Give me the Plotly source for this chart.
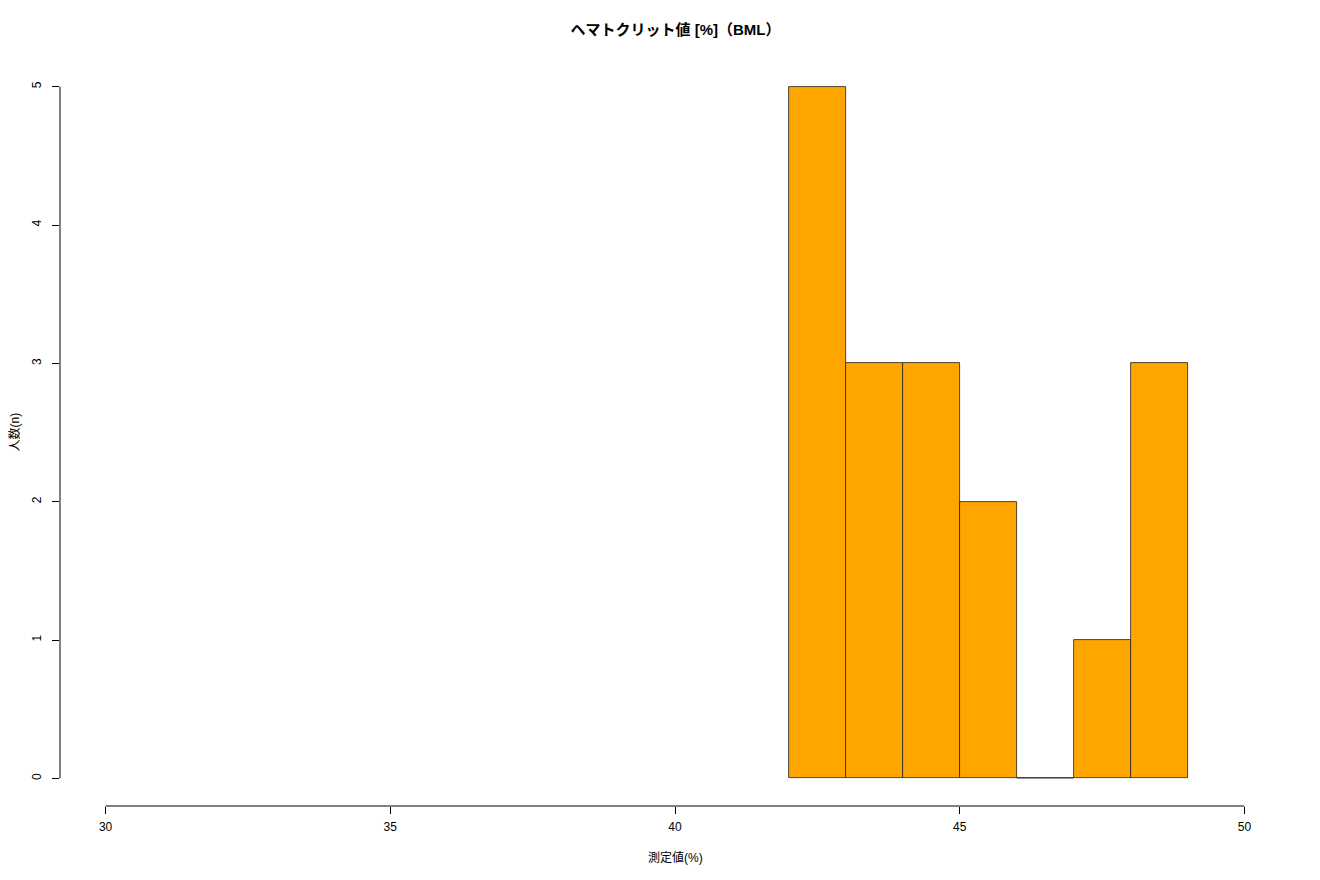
import plotly.graph_objects as go

# Histogram data (bin left edges, bin width 1)
bin_left = [42, 43, 44, 45, 46, 47, 48]
counts = [5, 3, 3, 2, 0, 1, 3]
bin_width = 1

x_ticks = [30, 35, 40, 45, 50]
y_ticks = [0, 1, 2, 3, 4, 5]

title_text = "ヘマトクリット値 [%]（BML）"
x_label = "測定値(%)"
y_label = "人数(n)"

FONT = "Liberation Sans, Arial, Noto Sans CJK JP, sans-serif"

xpad = 0.04 * (max(x_ticks) - min(x_ticks))
ypad = 0.04 * (max(y_ticks) - min(y_ticks))

centers = [b + bin_width / 2 for b in bin_left]

fig = go.Figure()
fig.add_trace(go.Bar(
    x=centers, y=counts, width=[bin_width] * len(bin_left),
    marker=dict(color="#FFA500", line=dict(color="#222222", width=0.8)),
    hoverinfo="x+y", showlegend=False,
))

# zero-height bins drawn as flat outline, like R
for b, c in zip(bin_left, counts):
    if c == 0:
        fig.add_trace(go.Scatter(x=[b, b + bin_width], y=[0, 0], mode="lines",
                                 line=dict(color="#888888", width=1),
                                 showlegend=False, hoverinfo="skip"))

# R-style axis lines spanning only tick range
shapes = [
    dict(type="line", xref="x", yref="paper", x0=min(x_ticks), x1=max(x_ticks),
         y0=0, y1=0, line=dict(color="black", width=1)),
    dict(type="line", xref="paper", yref="y", x0=0, x1=0,
         y0=min(y_ticks), y1=max(y_ticks), line=dict(color="black", width=1)),
]

fig.update_layout(
    width=1320, height=880,
    paper_bgcolor="white", plot_bgcolor="white",
    margin=dict(l=51.5, r=37.5, t=51.4, b=82.4, pad=0),
    font=dict(family=FONT, size=12, color="black"),
    title=dict(text="<b>" + title_text + "</b>", x=0.5057, xanchor="center",
               y=1 - 22 / 880, yanchor="middle",
               font=dict(family=FONT, size=15, color="black")),
    xaxis=dict(range=[min(x_ticks) - xpad, max(x_ticks) + xpad],
               tickvals=x_ticks, ticktext=[str(v) for v in x_ticks],
               ticks="outside", ticklen=7, tickcolor="black", tickwidth=1,
               showline=False, showgrid=False, zeroline=False,
               tickfont=dict(size=12), ticklabelstandoff=3, fixedrange=True),
    yaxis=dict(range=[min(y_ticks) - ypad, max(y_ticks) + ypad],
               tickvals=y_ticks, ticktext=[str(v) for v in y_ticks],
               ticks="outside", ticklen=7, tickcolor="black", tickwidth=1,
               tickangle=-90,
               showline=False, showgrid=False, zeroline=False,
               tickfont=dict(size=12), ticklabelstandoff=6, fixedrange=True),
    shapes=shapes,
    bargap=0,
    annotations=[
        dict(text=x_label, xref="paper", yref="paper", x=0.5, y=0,
             yshift=-51, xanchor="center", yanchor="middle",
             showarrow=False, font=dict(size=12)),
        dict(text=y_label, xref="paper", yref="paper", x=0, y=0.5,
             xshift=-46, xanchor="center", yanchor="middle", textangle=-90,
             showarrow=False, font=dict(size=12)),
    ],
)

fig.write_html("out.html")
